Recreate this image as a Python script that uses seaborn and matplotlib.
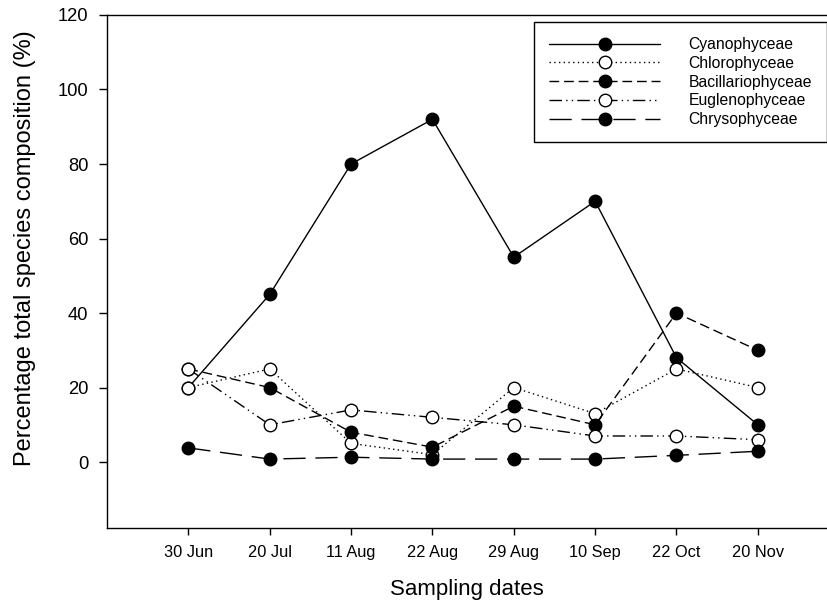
import numpy as np
import pandas as pd
import matplotlib
matplotlib.use("Agg")
import matplotlib.pyplot as plt
import seaborn as sns

sns.set_style("ticks")
plt.rcParams["font.family"] = ["Liberation Sans", "DejaVu Sans"]
plt.rcParams.update({"text.color": "k", "axes.labelcolor": "k",
                     "xtick.color": "k", "ytick.color": "k", "axes.edgecolor": "k"})

# === Data ===
dates = ["30 Jun", "20 Jul", "11 Aug", "22 Aug", "29 Aug", "10 Sep", "22 Oct", "20 Nov"]
cyanophyceae = [20, 45, 80, 92, 55, 70, 28, 10]
chlorophyceae = [20, 25, 5, 2, 20, 13, 25, 20]
bacillariophyceae = [25, 20, 8, 4, 15, 10, 40, 30]
euglenophyceae = [25, 10, 14, 12, 10, 7, 7, 6]
chrysophyceae = [3.8, 0.8, 1.3, 0.8, 0.8, 0.8, 1.8, 2.9]

series = [
    ("Cyanophyceae", cyanophyceae, "-", "k"),
    ("Chlorophyceae", chlorophyceae, (0, (1, 2.4)), "w"),
    ("Bacillariophyceae", bacillariophyceae, (0, (7, 3.5)), "k"),
    ("Euglenophyceae", euglenophyceae, (0, (9, 3, 1, 3, 1, 3)), "w"),
    ("Chrysophyceae", chrysophyceae, (0, (16, 7)), "k"),
]

x = np.arange(len(dates))

fig = plt.figure(figsize=(8.27, 6.09), dpi=100)
ax = fig.add_axes([0.1294, 0.133, 0.8706, 0.8424])

for name, vals, ls, face in series:
    df = pd.DataFrame({"x": x, "y": vals})
    sns.lineplot(data=df, x="x", y="y", ax=ax, label=name, color="k",
                 linestyle=ls, linewidth=1.0, marker="o", markersize=9,
                 markerfacecolor=face, markeredgecolor="k", markeredgewidth=1.0)

ax.set_xlim(-1.0, 7.85)
ax.set_ylim(-17.7, 120)
ax.set_xticks(x)
ax.set_xticklabels(dates, fontsize=11.8)
ax.set_yticks(np.arange(0, 121, 20))
ax.tick_params(axis="y", labelsize=13.2, length=5.5, width=1, pad=8)
ax.tick_params(axis="x", length=5, width=1, pad=7)
ax.spines["right"].set_visible(False)
for sp in ax.spines.values():
    sp.set_linewidth(1.0)

ax.set_xlabel("Sampling dates", fontsize=16)
ax.set_ylabel("Percentage total species composition (%)", fontsize=17)
ax.xaxis.set_label_coords(0.5, -0.099)
ax.yaxis.set_label_coords(-0.098, 0.546)

leg = ax.legend(loc="upper left", bbox_to_anchor=(0.593, 0.986), borderaxespad=0,
                fontsize=11.3, handlelength=7.1, handletextpad=1.8, labelspacing=0.24,
                borderpad=0.95, fancybox=False, framealpha=1, edgecolor="k")
leg.get_frame().set_linewidth(1.0)

fig.savefig("out.png", dpi=100)
